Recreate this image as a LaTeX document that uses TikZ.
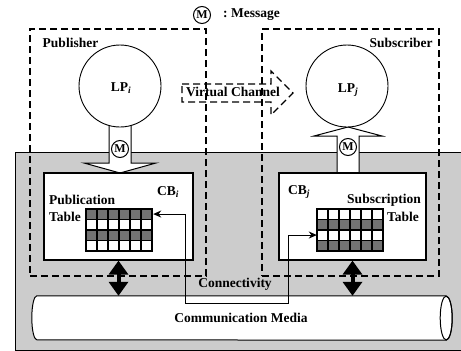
\documentclass[tikz,border=0pt]{standalone}
\usepackage{fontspec}
\setmainfont{Liberation Serif}
\usetikzlibrary{arrows.meta,shapes.geometric,calc}
\colorlet{dk}{black!55}
\colorlet{bg}{black!20}
\begin{document}
\begin{tikzpicture}[x=1pt,y=-1pt,
  every node/.style={font=\fontsize{13.5}{15}\selectfont\bfseries, inner sep=0pt},
  netbox/.style={draw, fill=bg, line width=1pt, rectangle, minimum width=455pt, minimum height=198pt},
  dashbox/.style={draw, line width=1.2pt, dash pattern=on 7pt off 4pt, rectangle, minimum height=247pt},
  lpcircle/.style={circle, draw, fill=white, line width=0.9pt, minimum size=82pt},
  mcirc/.style={circle, draw, fill=white, line width=1pt, minimum size=17pt, font=\fontsize{12}{12}\selectfont\bfseries},
  cbbox/.style={draw, fill=white, line width=1.2pt, rectangle, minimum height=87pt},
  tabarea/.style={rectangle, minimum width=66pt, minimum height=42pt},
  blockarrow/.style={draw, fill=white, line width=1pt, line join=miter},
  vdash/.style={draw, line width=1.1pt, dash pattern=on 7pt off 4pt},
  bidir/.style={line width=4pt, {Triangle[width=19pt,length=14pt]}-{Triangle[width=19pt,length=14pt]}},
  conn/.style={line width=1pt, {Stealth[length=8pt,width=7pt]}-{Stealth[length=8pt,width=7pt]}},
  tubeline/.style={draw, fill=white, line width=1pt}
]
\useasboundingbox (0,0) rectangle (461,351);

% network background
\node[netbox] (net) at (242.5,251) {};

% dashed publisher / subscriber regions
\node[dashbox, minimum width=176pt] (pubbox) at (118,152.5) {};
\node[dashbox, minimum width=177pt] (subbox) at (350.5,152.5) {};
\node (publabel) at (70.5,43) {Publisher};
\node (sublabel) at (401,43) {Subscriber};

% legend
\node[mcirc] (mleg) at (202,15) {M};
\node[anchor=west] (mlegtext) at (223,15) {:~Message};

% virtual channel arrow
\coordinate (vc1) at (182,84);
\coordinate (vc2) at (271,84);
\coordinate (vc3) at (271,71);
\coordinate (vc4) at (293,93);
\coordinate (vc5) at (271,115);
\coordinate (vc6) at (271,102);
\coordinate (vc7) at (182,102);
\draw[vdash] (vc1) -- (vc2) -- (vc3) -- (vc4) -- (vc5) -- (vc6) -- (vc7) -- cycle;
\node (vctext) at (233,92) {Virtual Channel};

% block arrows (stems)
\draw[blockarrow] (109,120) -- (131,120) -- (131,163) -- (156,163) -- (120,173) -- (84,163) -- (109,163) -- cycle;
\draw[blockarrow] (337,174) -- (359,174) -- (359,136) -- (382,136) -- (348,127) -- (314,136) -- (337,136) -- cycle;

% logical processes
\node[lpcircle] (lpi) at (120,86) {};
\node (lpitext) at (121,88) {LP\textsubscript{\itshape i}};
\node[lpcircle] (lpj) at (347,86) {};
\node (lpjtext) at (348,90) {LP\textsubscript{\itshape j}};

% messages on stems
\node[mcirc] (mi) at (120,149) {M};
\node[mcirc] (mj) at (348,147) {M};

% CB boxes
\node[cbbox, minimum width=149pt] (cbi) at (118.5,216.5) {};
\node[cbbox, minimum width=147pt] (cbj) at (352.5,216.5) {};
\node (cbitext) at (168,192) {CB\textsubscript{\itshape i}};
\node (cbjtext) at (299,192) {CB\textsubscript{\itshape j}};
\node[anchor=west] (pubt1) at (49,200) {Publication};
\node[anchor=west] (pubt2) at (49,217) {Table};
\node (subt1) at (384,200) {Subscription};
\node (subt2) at (403,217) {Table};

% tables
\node[tabarea] (tabi) at (119,230) {};
\node[tabarea] (tabj) at (350,230) {};
\foreach \r/\f in {0/dk,1/white,2/dk,3/white}
  \foreach \c in {0,...,5}
    \filldraw[fill=\f, line width=1.4pt] ($(tabi.north west)+({11*\c},{10.5*\r})$) rectangle ++(11,10.5);
\foreach \r/\f in {0/white,1/dk,2/white,3/dk}
  \foreach \c in {0,...,5}
    \filldraw[fill=\f, line width=1.4pt] ($(tabj.north west)+({11*\c},{10.5*\r})$) rectangle ++(11,10.5);

% communication media (tube)
\node[rectangle, minimum width=409pt, minimum height=44pt] (media) at (241.5,318) {};
\path[tubeline] (media.north east) -- (media.north west)
  arc[start angle=270, end angle=90, x radius=5, y radius=22]
  -- (media.south east)
  arc[start angle=90, end angle=-90, x radius=6, y radius=22];
\draw[line width=1pt] (media.east) ellipse[x radius=6, y radius=22];
\node (mediatext) at (241,318) {Communication Media};

% vertical exchange arrows
\draw[bidir] (cbi.south) -- (cbi.south |- media.north);
\draw[bidir] (cbj.south) -- (cbj.south |- media.north);

% connectivity
\coordinate (ca) at (185,303);
\coordinate (cb) at (288,303);
\draw[conn] ($(tabi.north east)+(1,5.25)$) -| (ca) -- (cb) |- ($(tabj.north west)+(0,26.25)$);
\node (conntext) at (235,284) {Connectivity};
\end{tikzpicture}
\end{document}
